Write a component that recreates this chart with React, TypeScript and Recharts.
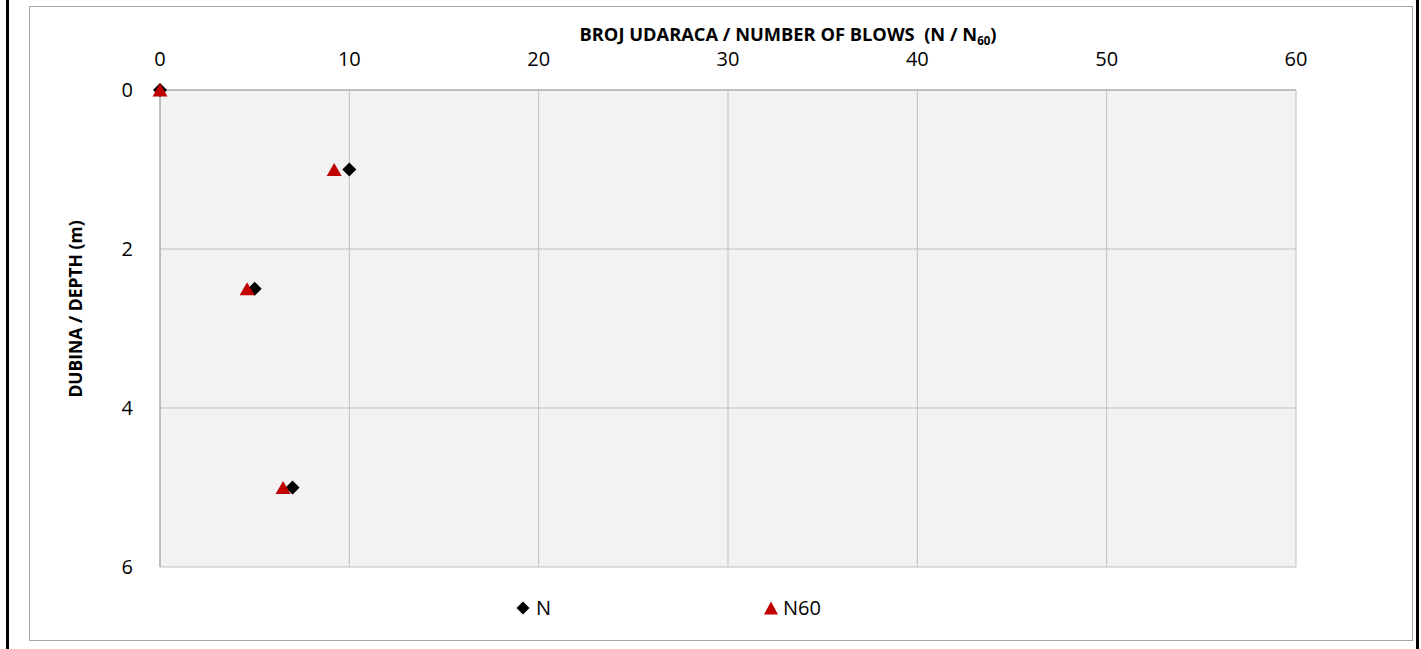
import React from 'react'
import { ScatterChart, Scatter, XAxis, YAxis, CartesianGrid } from 'recharts'

// depth (m) vs blow counts
const depths = [0, 1, 2.5, 5]
const nValues = [0, 10, 5, 7]
const n60Values = [0, 9.2, 4.6, 6.5]
const xTicks = [0, 10, 20, 30, 40, 50, 60]
const yTicks = [0, 2, 4, 6]

const nData = depths.map((d, i) => ({ x: nValues[i], y: d }))
const n60Data = depths.map((d, i) => ({ x: n60Values[i], y: d }))

const FONT = '"Open Sans", sans-serif'

const Diamond = (props: any) => {
  const { cx, cy } = props
  const r = 7
  return <path d={`M${cx},${cy - r}L${cx + r},${cy}L${cx},${cy + r}L${cx - r},${cy}Z`} fill="#000" />
}

const Triangle = (props: any) => {
  const { cx, cy } = props
  const w = 7.5
  const h = 13
  return <path d={`M${cx},${cy - h / 2}L${cx + w},${cy + h / 2}L${cx - w},${cy + h / 2}Z`} fill="#c00000" />
}

const XTitle = () => (
  <text x={788} y={41} textAnchor="middle" fontFamily={FONT} fontSize={18.3} fontWeight="bold" fill="#000">
    {'BROJ UDARACA / NUMBER OF BLOWS\u00a0 (N / N'}
    <tspan fontSize={11.5} dy={4}>60</tspan>
    <tspan dy={-4}>)</tspan>
  </text>
)

const YTitle = () => (
  <text
    x={75}
    y={309}
    transform="rotate(-90, 75, 309)"
    textAnchor="middle"
    dominantBaseline="central"
    fontFamily={FONT}
    fontSize={17.5}
    fontWeight="bold"
    fill="#000"
  >
    DUBINA / DEPTH (m)
  </text>
)

export default function App() {
  return (
    <div style={{ position: 'absolute', left: 0, top: 0, width: 1421, height: 649, background: '#fff', fontFamily: FONT }}>
      <div style={{ position: 'absolute', left: 6, top: 0, width: 3, height: 649, background: '#000' }} />
      <div style={{ position: 'absolute', left: 1416, top: 0, width: 3, height: 649, background: '#000' }} />
      <div style={{ position: 'absolute', left: 29, top: 6, width: 1382, height: 633, border: '1px solid #a6a6a6' }} />
      <div style={{ position: 'absolute', left: 0, top: 0 }}>
        <ScatterChart width={1421} height={649} margin={{ top: 60, right: 125, bottom: 82, left: 100 }}>
          <CartesianGrid stroke="#bfbfbf" fill="#f2f2f2" />
          <XAxis
            type="number"
            dataKey="x"
            orientation="top"
            domain={[0, 60]}
            ticks={xTicks}
            height={30}
            axisLine={{ stroke: '#a0a0a0' }}
            tickLine={false}
            tickMargin={18}
            tick={{ fill: '#000', fontSize: 20, fontFamily: FONT }}
            label={<XTitle />}
          />
          <YAxis
            type="number"
            dataKey="y"
            reversed
            domain={[0, 6]}
            ticks={yTicks}
            width={60}
            axisLine={{ stroke: '#a0a0a0' }}
            tickLine={false}
            tickMargin={21}
            tick={{ fill: '#000', fontSize: 20, fontFamily: FONT }}
            label={<YTitle />}
          />
          <Scatter name="N" data={nData} shape={Diamond} isAnimationActive={false} />
          <Scatter name="N60" data={n60Data} shape={Triangle} isAnimationActive={false} />
        </ScatterChart>
      </div>
      <div style={{ position: 'absolute', left: 515, top: 594, display: 'flex', alignItems: 'center', fontSize: 20, color: '#000' }}>
        <svg width={16} height={16}><path d="M8,1.5L14.5,8L8,14.5L1.5,8Z" fill="#000" /></svg>
        <span style={{ marginLeft: 5 }}>N</span>
      </div>
      <div style={{ position: 'absolute', left: 763, top: 594, display: 'flex', alignItems: 'center', fontSize: 20, color: '#000' }}>
        <svg width={16} height={16}><path d="M8,1.5L15,14.5L1,14.5Z" fill="#c00000" /></svg>
        <span style={{ marginLeft: 4 }}>N60</span>
      </div>
    </div>
  )
}
